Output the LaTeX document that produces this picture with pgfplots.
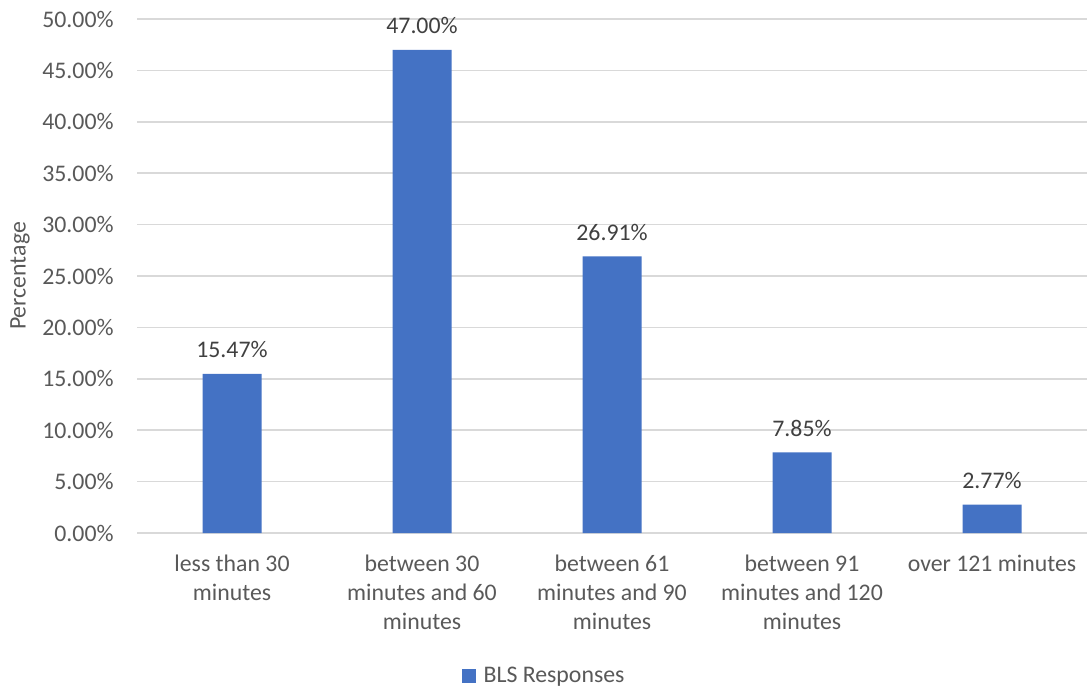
\documentclass[border=0pt]{standalone}
\usepackage{fontspec}
\setmainfont{Carlito}
\usepackage{pgfplots}
\pgfplotsset{compat=1.18}
\definecolor{barblue}{HTML}{4472C4}
\definecolor{gridgray}{HTML}{D9D9D9}
\definecolor{axisgray}{HTML}{595959}
\definecolor{labelgray}{HTML}{404040}
\newcommand{\chartfont}{\fontsize{11.9}{14.5}\selectfont}

\begin{document}
\begin{tikzpicture}
\useasboundingbox (0,0) rectangle (545pt,343.5pt);
\begin{axis}[
  at={(68.5pt,77pt)}, anchor=south west,
  scale only axis, width=475pt, height=257pt,
  /pgf/number format/assume math mode=true,
  enlargelimits=false,
  xmin=-0.5, xmax=4.5, ymin=0, ymax=50,
  ybar, bar width=29.5pt,
  axis line style={draw=none},
  major tick length=0pt,
  ytick={0,5,...,50},
  yticklabel={\pgfmathprintnumber[fixed,fixed zerofill,precision=2]{\tick}\%},
  yticklabel style={anchor=east, inner sep=0pt, xshift=-11.5pt},
  xtick={0,1,2,3,4},
  xticklabels={{less than 30\\minutes},
               {between 30\\minutes and 60\\minutes},
               {between 61\\minutes and 90\\minutes},
               {between 91\\minutes and 120\\minutes},
               {over 121 minutes}},
  xticklabel style={align=center, anchor=north, inner sep=0pt, yshift=-10.7pt},
  every tick label/.append style={font=\chartfont, text=axisgray},
  ymajorgrids, grid style={gridgray, line width=0.75pt},
  ylabel={Percentage},
  every axis y label/.style={at={(rel axis cs:0,0.5)}, xshift=-58.5pt,
    rotate=90, anchor=center, font=\chartfont, text=axisgray},
  nodes near coords={\pgfmathprintnumber[fixed,fixed zerofill,precision=2]{\pgfplotspointmeta}\%},
  nodes near coords style={font=\chartfont, text=labelgray, anchor=base, inner sep=0pt, yshift=8pt},
  legend style={at={(rel axis cs:0.4295,0)}, anchor=center, yshift=-71.5pt,
    draw=none, font=\chartfont, text=axisgray, inner sep=0pt},
  legend image code/.code={\fill[barblue] (0pt,-3.5pt) rectangle (7pt,3.5pt);
    \path (9pt,0pt);},
]
\addplot[fill=barblue, draw=none] coordinates {
  (0,15.47) (1,47.00) (2,26.91) (3,7.85) (4,2.77)
};
\addlegendentry{BLS Responses}
\end{axis}
\end{tikzpicture}
\end{document}
